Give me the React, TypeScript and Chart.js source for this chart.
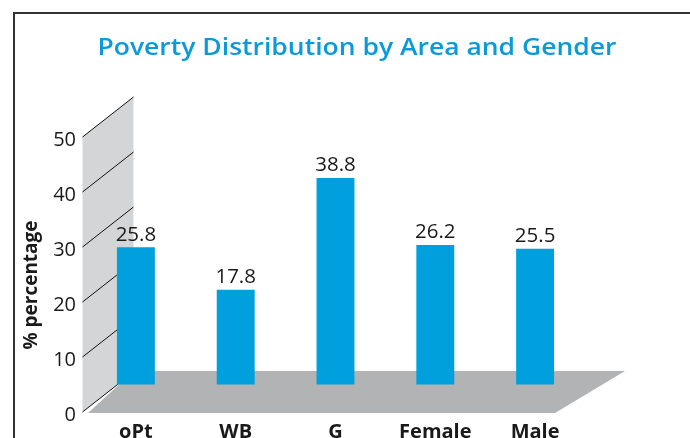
import React, { useEffect, useRef } from "react";
import { Chart, registerables } from "chart.js";

Chart.register(...registerables);

const categories = ["oPt", "WB", "G", "Female", "Male"];
const values = [25.8, 17.8, 38.8, 26.2, 25.5];
const yTicks = [0, 10, 20, 30, 40, 50];
const chartTitle = "Poverty Distribution by Area and Gender";
const yAxisTitle = "% percentage";

const FONT = "'Open Sans', 'Noto Sans', sans-serif";
const BLUE = "#00a0de";
const TITLE_BLUE = "#0a9ad8";
const TEXT = "#1a1a1a";
const WALL = "#d4d5d6";
const FLOOR = "#b1b3b5";

const decor = {
  id: "decor",
  beforeDraw(chart: any) {
    const { ctx } = chart;
    ctx.save();
    ctx.fillStyle = "#ffffff";
    ctx.fillRect(0, 0, chart.width, chart.height);
    ctx.fillStyle = "#333333";
    ctx.fillRect(13, 12, chart.width - 13, 2);
    ctx.fillRect(13, 12, 2, chart.height - 12);
    ctx.restore();

    // main title (horizontally widened like the reference)
    ctx.save();
    ctx.font = `600 23px ${FONT}`;
    ctx.fillStyle = TITLE_BLUE;
    ctx.textAlign = "center";
    ctx.textBaseline = "alphabetic";
    const w = ctx.measureText(chartTitle).width;
    ctx.translate(357, 55);
    ctx.scale(519 / w, 1);
    ctx.fillText(chartTitle, 0, 0);
    ctx.restore();

    // y axis title
    ctx.save();
    ctx.font = `bold 19px ${FONT}`;
    ctx.fillStyle = TEXT;
    ctx.translate(32, 285);
    ctx.rotate(-Math.PI / 2);
    ctx.textAlign = "center";
    ctx.textBaseline = "middle";
    ctx.fillText(yAxisTitle, 0, 0);
    ctx.restore();
  },
  beforeDatasetsDraw(chart: any) {
    const { ctx, chartArea } = chart;
    const y = chart.scales.y;
    const frontX = chartArea.left - 3.5;
    const dx = 51;
    const dy = -40;
    const y0 = y.getPixelForValue(y.min);
    const yTop = y.getPixelForValue(y.max);
    ctx.save();
    // back wall
    ctx.fillStyle = WALL;
    ctx.beginPath();
    ctx.moveTo(frontX, yTop);
    ctx.lineTo(frontX + dx, yTop + dy);
    ctx.lineTo(frontX + dx, y0 + dy);
    ctx.lineTo(frontX, y0);
    ctx.closePath();
    ctx.fill();
    // wall grid lines
    ctx.strokeStyle = "#111111";
    ctx.lineWidth = 1;
    y.ticks.forEach((t: any) => {
      const py = y.getPixelForValue(t.value);
      ctx.beginPath();
      ctx.moveTo(frontX, py);
      ctx.lineTo(frontX + dx, py + dy);
      ctx.stroke();
    });
    // floor
    const fy = y0 + 1;
    const fl = chartArea.left + 2;
    const fr = chartArea.right - 30;
    ctx.fillStyle = FLOOR;
    ctx.beginPath();
    ctx.moveTo(fl, fy);
    ctx.lineTo(fr, fy);
    ctx.lineTo(fr + 70, fy - 42);
    ctx.lineTo(fl + 46, fy - 42);
    ctx.closePath();
    ctx.fill();
    ctx.restore();
  },
  afterDatasetsDraw(chart: any) {
    const { ctx } = chart;
    const meta = chart.getDatasetMeta(0);
    ctx.save();
    ctx.font = `20.5px ${FONT}`;
    ctx.fillStyle = TEXT;
    ctx.textAlign = "center";
    ctx.textBaseline = "alphabetic";
    meta.data.forEach((bar: any, i: number) => {
      ctx.fillText(values[i].toFixed(1), bar.x, bar.y - 6.6);
    });
    ctx.restore();
  },
};

export default function App() {
  const ref = useRef<HTMLCanvasElement | null>(null);
  useEffect(() => {
    if (!ref.current) return;
    const chart = new Chart(ref.current, {
      type: "bar",
      data: {
        labels: categories,
        datasets: [
          {
            data: values,
            backgroundColor: BLUE,
            borderWidth: 0,
            yAxisID: "yBar",
            barPercentage: 0.38,
            categoryPercentage: 1,
          },
        ],
      },
      options: {
        animation: false,
        responsive: true,
        maintainAspectRatio: false,
        devicePixelRatio: 1,
        layout: { padding: { left: 0, right: 105, top: 137, bottom: 0 } },
        plugins: {
          legend: { display: false },
          title: { display: false },
          tooltip: { enabled: false },
        },
        scales: {
          x: {
            type: "category",
            offset: true,
            grid: { display: false, drawTicks: false },
            border: { display: false },
            ticks: {
              font: { family: FONT, size: 20, weight: "bold" },
              color: TEXT,
              padding: 8,
              maxRotation: 0,
              autoSkip: false,
            },
            afterFit: (s: any) => {
              s.height = 26;
              s.paddingLeft = 0;
              s.paddingRight = 0;
            },
          },
          y: {
            position: "left",
            min: 0,
            max: 50,
            afterBuildTicks: (s: any) => {
              s.ticks = yTicks.map((v) => ({ value: v }));
            },
            ticks: {
              font: { family: FONT, size: 20 },
              color: TEXT,
              padding: 10,
              labelOffset: 3,
            },
            grid: { display: false, drawTicks: false },
            border: { display: false },
            afterFit: (s: any) => {
              s.width = 86;
              s.paddingTop = 0;
              s.paddingBottom = 0;
            },
          },
          yBar: {
            display: false,
            min: -5.17,
            max: 46.5,
          },
        },
      } as any,
      plugins: [decor],
    });
    return () => chart.destroy();
  }, []);
  return (
    <div style={{ position: "absolute", left: 0, top: 0, width: 690, height: 438 }}>
      <canvas ref={ref} />
    </div>
  );
}
